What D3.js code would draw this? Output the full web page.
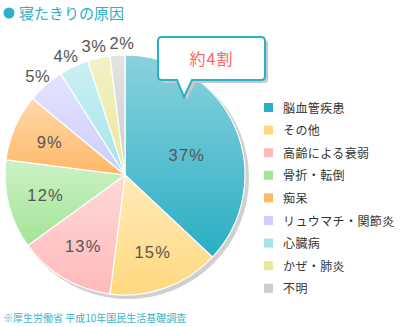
<!DOCTYPE html>
<html><head><meta charset="utf-8">
<script src="https://cdn.jsdelivr.net/npm/d3@7"></script>
<style>html,body{margin:0;padding:0;background:#fff;}svg{display:block;}</style>
</head><body>
<svg id="c" width="405" height="327"></svg>
<script>
const categories = ["脳血管疾患","その他","高齢による衰弱","骨折・転倒","痴呆","リュウマチ・関節炎","心臓病","かぜ・肺炎","不明"];
const values = [37,15,13,12,9,5,4,3,2];
const colors = ["#2aaec3","#ffd97f","#ffb9b9","#a2e595","#ffb866","#cdcdff","#a3e4e9","#e8e89a","#cccccc"];
const titleText = "寝たきりの原因";
const calloutText = "約4割";
const noteText = "※厚生労働省 平成10年国民生活基礎調査";

const svg = d3.select("#c");
const font = "'Noto Sans CJK JP','Noto Sans',sans-serif";
const teal = "#2bb0c6";
const cx = 125, cy = 175, R = 120;

const defs = svg.append("defs");
colors.forEach((c,i)=>{
  const g = defs.append("linearGradient").attr("id","g"+i).attr("x1",0).attr("y1",0).attr("x2",0).attr("y2",1);
  g.append("stop").attr("offset","0%").attr("stop-color", d3.interpolateRgb(c,"#ffffff")(0.45));
  g.append("stop").attr("offset","100%").attr("stop-color", c);
});

// title
svg.append("circle").attr("cx",9).attr("cy",13).attr("r",5.5).attr("fill",teal);
svg.append("text").attr("x",19).attr("y",19).attr("font-family",font).attr("font-size",15).attr("fill",teal).text(titleText);

// pie
const pie = d3.pie().sort(null).value(d=>d)(values);
const arc = d3.arc().innerRadius(0).outerRadius(R);
const g = svg.append("g").attr("transform",`translate(${cx},${cy})`);
g.append("circle").attr("cx",3).attr("cy",3).attr("r",R+1).attr("fill","#d0d0d0");
g.selectAll("path.s").data(pie).join("path").attr("class","s")
  .attr("d",arc).attr("fill",(d,i)=>`url(#g${i})`).attr("stroke","#fff").attr("stroke-width",1.2);

// labels
const labels = pie.map((d,i)=>{
  let a = (d.startAngle+d.endAngle)/2, r, outer=false;
  if (i===0) { a = 72*Math.PI/180; r = 65; }
  else if (d.data < 6) { r = 132; outer=true; }
  else r = 82;
  return {x:Math.sin(a)*r, y:-Math.cos(a)*r, outer, text:d.data+"%"};
});
// spread outer labels horizontally to avoid overlaps
const outerL = labels.filter(l=>l.outer);
for (let it=0; it<50; it++) {
  for (let k=0; k<outerL.length-1; k++) {
    const a=outerL[k], b=outerL[k+1];
    const gap = b.x - a.x;
    if (gap < 28) { const p=(28-gap)/2; a.x-=p; b.x+=p; }
  }
}
labels.forEach(l=>{
  g.append("text").attr("x",l.x).attr("y",l.y+6)
    .attr("text-anchor","middle").attr("font-family","'Liberation Sans',Arial,sans-serif")
    .attr("font-size",16.5).attr("letter-spacing",l.outer?0.5:1.2).attr("fill","#555").text(l.text);
});

// callout
const cb = svg.append("g");
const bx=158, by=37, bw=107, bh=43, px=184;
const path = `M${bx+4},${by} H${bx+bw-4} Q${bx+bw},${by} ${bx+bw},${by+4} V${by+bh-4} Q${bx+bw},${by+bh} ${bx+bw-4},${by+bh} H${px+8} L${px},${by+bh+17} L${px-7},${by+bh} H${bx+4} Q${bx},${by+bh} ${bx},${by+bh-4} V${by+4} Q${bx},${by} ${bx+4},${by} Z`;
cb.append("path").attr("d",path).attr("transform","translate(3,3)").attr("fill","#c8c8c8");
cb.append("path").attr("d",path).attr("fill","#fff").attr("stroke",teal).attr("stroke-width",2);
cb.append("text").attr("x",bx+bw/2).attr("y",by+bh/2+6).attr("text-anchor","middle")
  .attr("font-family",font).attr("font-size",16).attr("letter-spacing",1).attr("fill","#ff6464").text(calloutText);

// legend
const lg = svg.append("g");
categories.forEach((c,i)=>{
  const y = 108 + i*22.6;
  lg.append("rect").attr("x",264).attr("y",y-5).attr("width",9).attr("height",9).attr("fill",colors[i]);
  lg.append("text").attr("x",283).attr("y",y+4.5).attr("font-family",font).attr("font-size",12)
    .attr("letter-spacing",0.4).attr("fill","#333").text(c);
});

// note
svg.append("text").attr("x",3).attr("y",322).attr("font-family",font).attr("font-size",10).attr("fill","#3ab3c8").text(noteText);
</script>
</body></html>
